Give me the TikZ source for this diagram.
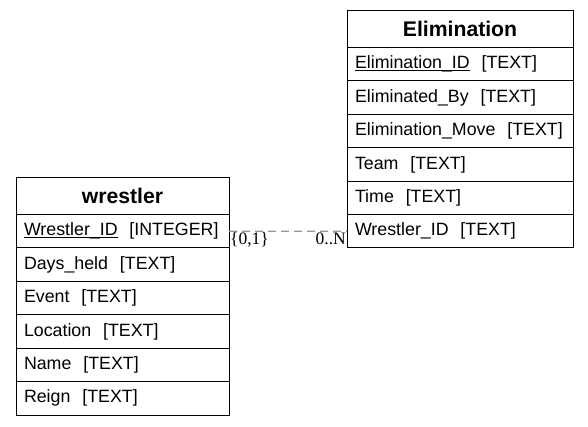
\documentclass[tikz,border=0pt]{standalone}
\usepackage{fontspec}
\setmainfont{Liberation Sans}
\newfontfamily\serifl{Liberation Serif}
\newcommand\pkey[1]{\underline{\smash{#1}}}
\begin{document}
\begin{tikzpicture}[x=1pt,y=-1pt,
  row/.style={draw, line width=1pt, outer sep=0pt, anchor=north west, minimum width=#1, text width=#1-16pt,
    inner xsep=8pt, inner ysep=0pt, minimum height=33.4pt, align=left,
    font=\fontsize{17.8}{20}\selectfont},
  head/.style={draw, line width=1pt, outer sep=0pt, anchor=north west, minimum width=#1, text width=#1-16pt,
    inner xsep=8pt, inner ysep=0pt, minimum height=36.6pt, align=center,
    font=\fontsize{21.2}{24}\selectfont\bfseries},
  card/.style={inner sep=1pt, font=\serifl\fontsize{17.5}{19}\selectfont}
]
\useasboundingbox (0,0) rectangle (588,427);
% Elimination
\node[head=226pt] (eh) at (347,11) {Elimination};
\node[row=226pt] (e1) at (eh.south west) {\pkey{Elimination\_ID}\ \ [TEXT]};
\node[row=226pt] (e2) at (e1.south west) {Eliminated\_By\ \ [TEXT]};
\node[row=226pt] (e3) at (e2.south west) {Elimination\_Move\ \ [TEXT]};
\node[row=226pt] (e4) at (e3.south west) {Team\ \ [TEXT]};
\node[row=226pt] (e5) at (e4.south west) {Time\ \ [TEXT]};
\node[row=226pt] (e6) at (e5.south west) {Wrestler\_ID\ \ [TEXT]};
% wrestler
\node[head=213pt] (wh) at (16,178) {wrestler};
\node[row=213pt] (w1) at (wh.south west) {\pkey{Wrestler\_ID}\ \ [INTEGER]};
\node[row=213pt] (w2) at (w1.south west) {Days\_held\ \ [TEXT]};
\node[row=213pt] (w3) at (w2.south west) {Event\ \ [TEXT]};
\node[row=213pt] (w4) at (w3.south west) {Location\ \ [TEXT]};
\node[row=213pt] (w5) at (w4.south west) {Name\ \ [TEXT]};
\node[row=213pt] (w6) at (w5.south west) {Reign\ \ [TEXT]};
% connector
\draw[color={rgb,255:red,150;green,150;blue,150}, line width=1.2pt, dash pattern=on 8pt off 5pt] (w1.east) -- (e6.west);
\node[card, anchor=north west] (c1) at (w1.east) {\{0,1\}};
\node[card, anchor=north east] (c2) at (e6.west) {0..N};
\end{tikzpicture}
\end{document}
